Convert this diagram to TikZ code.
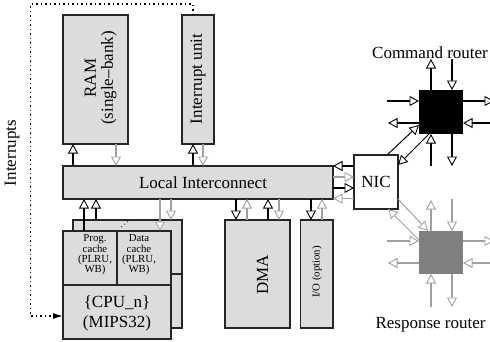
\documentclass[tikz,border=0pt]{standalone}
\usepackage{fontspec}
\setmainfont{Liberation Serif}
\usetikzlibrary{arrows.meta,calc}

\definecolor{boxfill}{RGB}{220,220,220}
\definecolor{linkgray}{RGB}{160,160,160}
\definecolor{rspfill}{RGB}{128,128,128}

\tikzset{
  box/.style={draw=black!85, line width=1.1pt, fill=boxfill, inner sep=0pt, outer sep=0pt},
  bigtext/.style={font=\fontsize{17}{17}\selectfont, align=center, inner sep=0pt},
  smalltext/.style={font=\fontsize{10.8}{10.4}\selectfont, align=center, inner sep=0pt},
  hollow/.tip={Triangle[length=9.5pt, width=10pt, line width=0.9pt, fill=white]},
  blink/.style={line width=1.1pt, draw=black, -hollow},
  glink/.style={line width=1.1pt, draw=linkgray, -hollow},
  irq/.style={line width=1.2pt, dash pattern=on 1.3pt off 3.2pt, -{Latex[length=10pt,width=6pt]}},
}

\begin{document}
\begin{tikzpicture}[x=1pt,y=-1pt]
\useasboundingbox (0,0) rectangle (490,341);

% memory and interrupt controller
\node[box, minimum width=65pt, minimum height=129pt] (ram) at (95.5,79.5) {};
\node[bigtext, rotate=90] (ramtxt) at (100.5,78) {RAM\\(single\textendash bank)};
\node[box, minimum width=32pt, minimum height=129pt] (intu) at (198,79.5) {};
\node[bigtext, rotate=90] (intutxt) at (198,79) {Interrupt unit};

% local interconnect
\node[box, minimum width=270pt, minimum height=33pt] (lic) at (198,182.5) {};
\node[bigtext] (lictxt) at (203,182.5) {Local Interconnect};

% processor tile: one copy behind, one in front
\node[box, minimum width=109pt, minimum height=108pt] (back) at (127.5,274) {};
\draw[line width=1.1pt, black!85] (171,274) -- (back.east |- 0,274);
\node[box, minimum width=54pt, minimum height=54pt] (prog) at (90,258) {};
\node[box, minimum width=54pt, minimum height=54pt] (data) at (144,258) {};
\node[box, minimum width=108pt, minimum height=54pt] (cpu) at (117,312) {};
\node[smalltext] (progtxt) at (95,255) {Prog.\\cache\\(PLRU,\\WB)};
\node[smalltext] (datatxt) at (139,255) {Data\\cache\\(PLRU,\\WB)};
\node[font=\fontsize{17}{20}\selectfont, align=center, inner sep=0pt] (cputxt) at (117,313) {\{CPU\_n\}\\(MIPS32)};
\foreach \i/\px/\py in {1/121.7/226.7, 2/124.8/224.2, 3/127.7/221.7}
  \fill (\px,\py) circle (0.55pt);

% DMA and optional I/O
\node[box, minimum width=65pt, minimum height=108pt] (dma) at (257.5,274) {};
\node[bigtext, rotate=90] (dmatxt) at (262.5,275) {DMA};
\node[box, minimum width=32.5pt, minimum height=108pt] (io) at (316.75,274) {};
\node[smalltext, rotate=90] (iotxt) at (317,272) {I/O (option)};

% network interface and routers
\node[draw=black!85, line width=1.1pt, fill=white, minimum width=44pt, minimum height=54pt, inner sep=0pt, outer sep=0pt] (nic) at (376,182) {};
\node[bigtext] (nictxt) at (376,182) {NIC};
\node[fill=black, minimum width=44pt, minimum height=44pt, inner sep=0pt, outer sep=0pt] (cmd) at (441,112) {};
\node[fill=rspfill, minimum width=44pt, minimum height=43pt, inner sep=0pt, outer sep=0pt] (rsp) at (441,252.5) {};
\node[bigtext, anchor=base] (cmdtxt) at (430,58) {Command router};
\node[bigtext, anchor=base] (rsptxt) at (430.5,328) {Response router};

% links between memory / interrupt unit and the interconnect
\draw[blink] ([xshift=10pt]ram.south west |- lic.north) -- ([xshift=10pt]ram.south west);
\draw[glink] ([xshift=-12pt]ram.south east) -- ([xshift=-12pt]ram.south east |- lic.north);
\draw[blink] ([xshift=11pt]intu.south west |- lic.north) -- ([xshift=11pt]intu.south west);
\draw[glink] ([xshift=21pt]intu.south west) -- ([xshift=21pt]intu.south west |- lic.north);

% links between processor tiles and the interconnect
\draw[blink] ([xshift=21pt]prog.north west) -- ([xshift=21pt]prog.north west |- lic.south);
\draw[blink] ([xshift=23pt]back.north west) -- ([xshift=23pt]back.north west |- lic.south);
\draw[glink] ([xshift=43pt]data.north west |- lic.south) -- ([xshift=43pt]data.north west);
\draw[glink] ([xshift=98pt]back.north west |- lic.south) -- ([xshift=98pt]back.north west);

% links to DMA and I/O
\draw[blink] ([xshift=11pt]dma.north west |- lic.south) -- ([xshift=11pt]dma.north west);
\draw[glink] ([xshift=22pt]dma.north west) -- ([xshift=22pt]dma.north west |- lic.south);
\draw[blink] ([xshift=43pt]dma.north west) -- ([xshift=43pt]dma.north west |- lic.south);
\draw[glink] ([xshift=54pt]dma.north west |- lic.south) -- ([xshift=54pt]dma.north west);
\draw[blink] ([xshift=10.5pt]io.north west |- lic.south) -- ([xshift=10.5pt]io.north west);
\draw[glink] ([xshift=21.5pt]io.north west) -- ([xshift=21.5pt]io.north west |- lic.south);

% interconnect <-> NIC
\draw[blink] ([yshift=-11pt]nic.north west) -- ([yshift=-11pt]nic.north west -| lic.east);
\draw[glink] ([yshift=-22pt]nic.north west -| lic.east) -- ([yshift=-22pt]nic.north west);
\draw[blink] ([yshift=-33pt]nic.north west -| lic.east) -- ([yshift=-33pt]nic.north west);
\draw[glink] ([yshift=-43.5pt]nic.north west) -- ([yshift=-43.5pt]nic.north west -| lic.east);

% NIC <-> routers
\draw[blink, line width=1pt] ([xshift=33pt]nic.north west) -- ([yshift=-35pt]cmd.north west);
\draw[blink, line width=1pt] ([xshift=10pt]cmd.south west) -- ([yshift=-10pt]nic.north east);
\draw[glink, line width=1pt] ([yshift=10pt]nic.south east) -- ([xshift=9pt]rsp.north west);
\draw[glink, line width=1pt] ([yshift=-9pt]rsp.north west) -- ([xshift=34pt]nic.south west);

% command router ports
\draw[blink] ([xshift=12pt]cmd.north west) -- ++(0,-31);
\draw[blink] ([xshift=33pt,yshift=31pt]cmd.north west) -- ([xshift=33pt]cmd.north west);
\draw[blink] ([xshift=-32pt,yshift=-11pt]cmd.north west) -- ([yshift=-11pt]cmd.north west);
\draw[blink] ([yshift=-33pt]cmd.north west) -- ++(-31,0);
\draw[blink] ([yshift=-11pt]cmd.north east) -- ++(31,0);
\draw[blink] ([xshift=31pt,yshift=-33pt]cmd.north east) -- ([yshift=-33pt]cmd.north east);
\draw[blink] ([xshift=12pt,yshift=-32pt]cmd.south west) -- ([xshift=12pt]cmd.south west);
\draw[blink] ([xshift=33pt]cmd.south west) -- ++(0,32);

% response router ports
\draw[glink] ([xshift=12pt]rsp.north west) -- ++(0,-31);
\draw[glink] ([xshift=33pt,yshift=32pt]rsp.north west) -- ([xshift=33pt]rsp.north west);
\draw[glink] ([xshift=-32pt,yshift=-10pt]rsp.north west) -- ([yshift=-10pt]rsp.north west);
\draw[glink] ([yshift=-32pt]rsp.north west) -- ++(-31,0);
\draw[glink] ([yshift=-10pt]rsp.north east) -- ++(31,0);
\draw[glink] ([xshift=31pt,yshift=-32pt]rsp.north east) -- ([yshift=-32pt]rsp.north east);
\draw[glink] ([xshift=12pt,yshift=-33pt]rsp.south west) -- ([xshift=12pt]rsp.south west);
\draw[glink] ([xshift=33pt]rsp.south west) -- ++(0,33);

% interrupt line from the interrupt unit back to the processor
\coordinate (irqcorner) at (30.7,4);
\draw[irq] ([xshift=11pt]intu.north west) |- (irqcorner) |- ([yshift=23pt]cpu.south west);
\node[bigtext, rotate=90] (irqtxt) at (12,153) {Interrupts};

\end{tikzpicture}
\end{document}
